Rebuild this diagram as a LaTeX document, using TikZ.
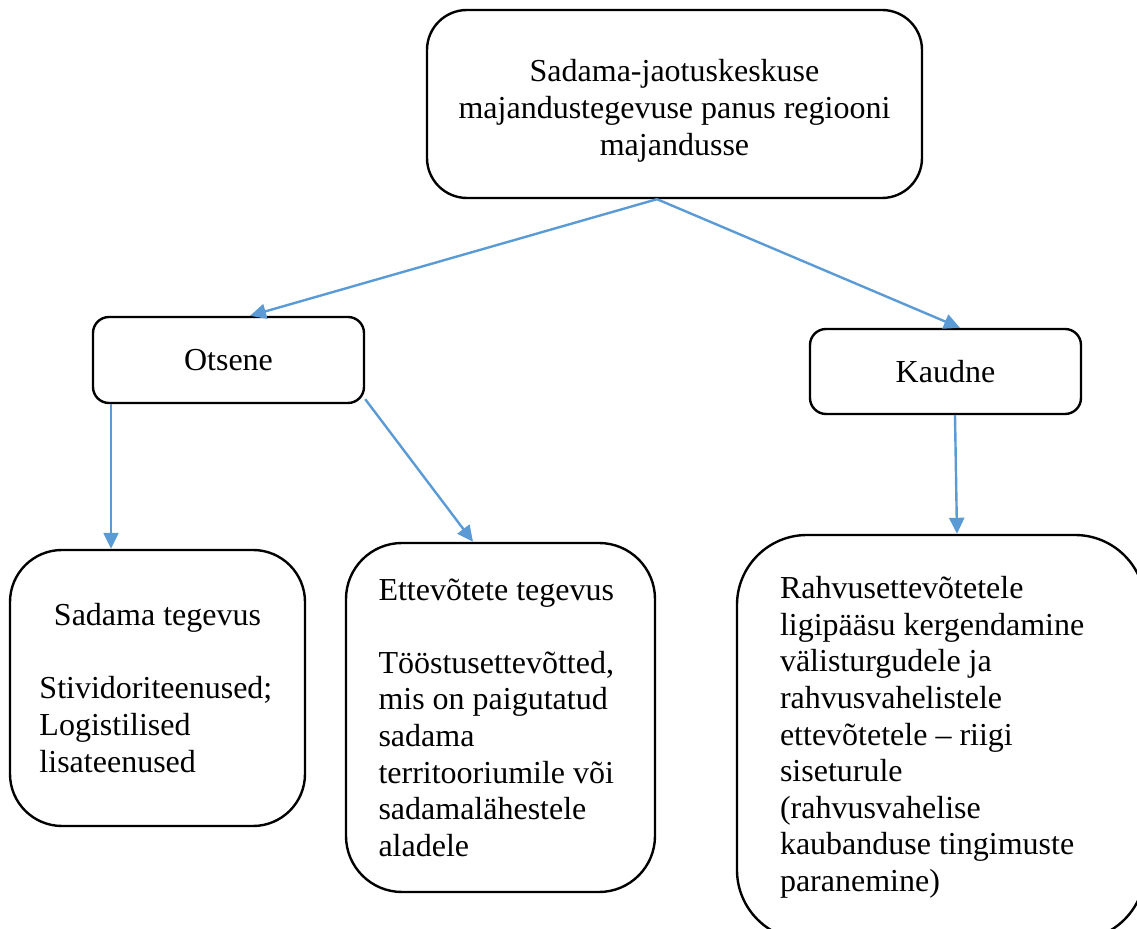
\documentclass[tikz,border=0pt]{standalone}
\usepackage{fontspec}
\setmainfont{Liberation Serif}
\usetikzlibrary{arrows.meta}
\definecolor{arrowblue}{RGB}{91,155,213}

\begin{document}
\begin{tikzpicture}[x=0.5pt,y=-0.5pt,
	box/.style={draw=black,line width=1.2pt,fill=white,inner sep=0pt,font=\fontsize{16}{18.3}\selectfont},
	arr/.style={color=arrowblue,line width=1.2pt,-{Triangle[length=8pt,width=7.5pt]}}]
	\clip (0,0) rectangle (1137,929);
	
	\node[box,rounded corners=20pt,minimum width=247.5pt,minimum height=94pt,align=center] (1) at (674.5,104) {\rule{0pt}{18pt}Sadama-jaotuskeskuse\\ majandustegevuse panus regiooni\\ majandusse};
	\node[box,rounded corners=8pt,minimum width=135.5pt,minimum height=43pt] (2) at (228.5,360) {Otsene};
	\node[box,rounded corners=8pt,minimum width=135.5pt,minimum height=42.5pt] (3) at (945.5,371.5) {Kaudne};
	\node[box,rounded corners=26pt,minimum width=147.5pt,minimum height=138pt,text width=118pt,align=flush left] (4) at (157.5,688) {\makebox[\linewidth]{Sadama tegevus}\\[18.3pt] Stividoriteenused;\\ Logistilised\\ lisateenused};
	\node[box,rounded corners=28pt,minimum width=154.5pt,minimum height=174.5pt,text width=122pt,align=flush left] (5) at (500.5,717.5) {Ettevõtete tegevus\\[18.3pt] Tööstusettevõtted,\\ mis on paigutatud\\ sadama\\ territooriumile või\\ sadamalähestele\\ aladele};
	\node[box,rounded corners=35pt,minimum width=204pt,minimum height=202.5pt,text width=161pt,align=flush left] (6) at (941,737.5) {Rahvusettevõtetele\\ ligipääsu kergendamine\\ välisturgudele ja\\ rahvusvahelistele\\ ettevõtetele – riigi\\ siseturule\\ (rahvusvahelise\\ kaubanduse tingimuste\\ paranemine)};
	
	\path ([xshift=-8.75pt]1.south) edge[arr] ([xshift=10.75pt]2.north);
	\path ([xshift=-8.75pt]1.south) edge[arr] ([xshift=7.25pt]3.north);
	\path ([xshift=-58.75pt]2.south) edge[arr] ([xshift=-23.25pt]4.north);
	\path ([yshift=2.5pt]2.south east) edge[arr] ([xshift=-13.75pt]5.north);
	\path ([xshift=4.75pt]3.south) edge[arr] ([xshift=8pt]6.north);
\end{tikzpicture}
\end{document}
